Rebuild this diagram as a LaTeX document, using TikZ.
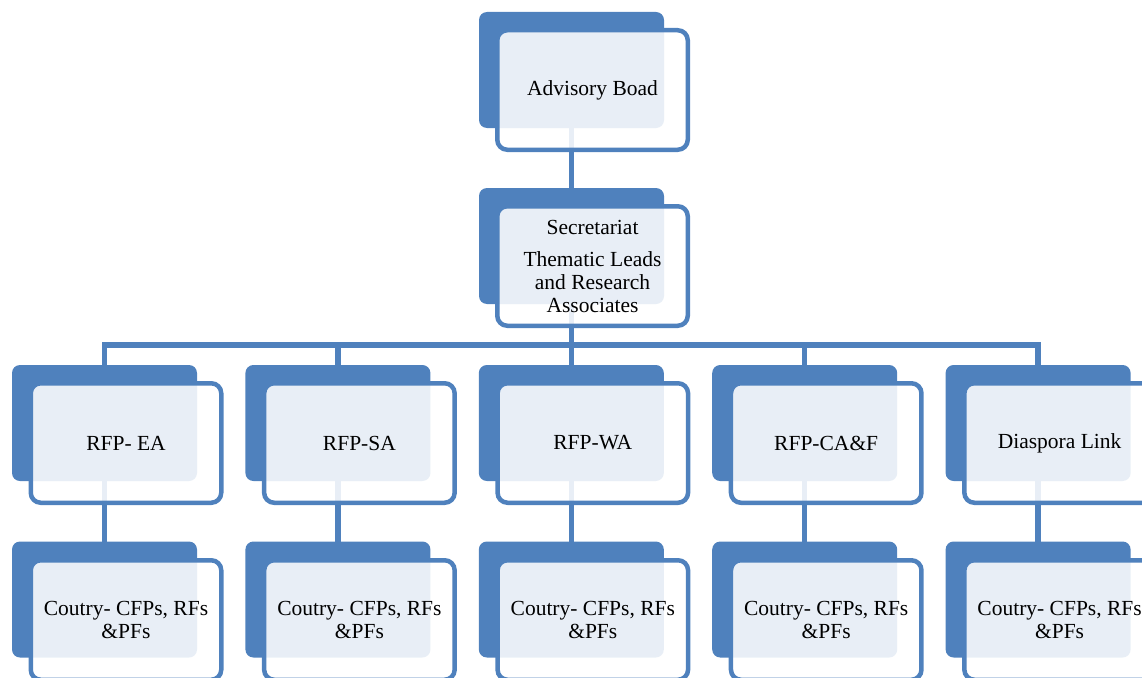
\documentclass[tikz,border=0pt]{standalone}
\usepackage{fontspec}
\setmainfont{Liberation Serif}
\usetikzlibrary{backgrounds}
\definecolor{orgblue}{HTML}{4F81BD}
\begin{document}
\begin{tikzpicture}[x=1pt,y=-1pt,
  backbox/.style={fill=orgblue, rounded corners=8pt, minimum width=185pt, minimum height=116pt, inner sep=0pt, outer sep=0pt},
  framebox/.style={draw=orgblue, line width=4.5pt, fill=white, fill opacity=0.87, text opacity=1, rounded corners=10pt, minimum width=190.5pt, minimum height=119.5pt, align=center, font=\fontsize{21.5}{23}\selectfont, inner sep=0pt},
  link/.style={draw=orgblue, line width=5.5pt, line join=miter}]
\useasboundingbox (0,0) rectangle (1142,677);
\clip (0,0) rectangle (1142,677);
\node[backbox] (advB) at (571.5,70) {};
\node[framebox] (adv) at (592.5,90) {Advisory Boad};
\node[backbox] (secB) at (571.5,246) {};
\node[framebox] (sec) at (592.5,266) {Secretariat\\[9pt]Thematic Leads\\and Research\\Associates};
\foreach \i/\t in {0/RFP- EA,1/RFP-SA,2/RFP-WA,3/RFP-CA\&F,4/Diaspora Link} {
  \node[backbox] (rb\i) at (104.5+233.4*\i,423) {};
  \node[framebox] (r\i) at (126+233.4*\i,443) {\t};
  \node[backbox] (cb\i) at (104.5+233.4*\i,599.5) {};
  \node[framebox] (c\i) at (126+233.4*\i,620) {Coutry- CFPs, RFs\\\&PFs};
}
\coordinate (bus) at (0,345);
\begin{scope}[on background layer]
\draw[link] (advB.south) -- (secB.north);
\draw[link] (secB.south) -- (secB.south |- bus);
\draw[link] (rb0.north) -- (rb0.north |- bus) -- (rb4.north |- bus) -- (rb4.north);
\foreach \i in {1,2,3} \draw[link] (rb\i.north |- bus) -- (rb\i.north);
\foreach \i in {0,...,4} \draw[link] (rb\i.south) -- (cb\i.north);
\end{scope}
\end{tikzpicture}
\end{document}
